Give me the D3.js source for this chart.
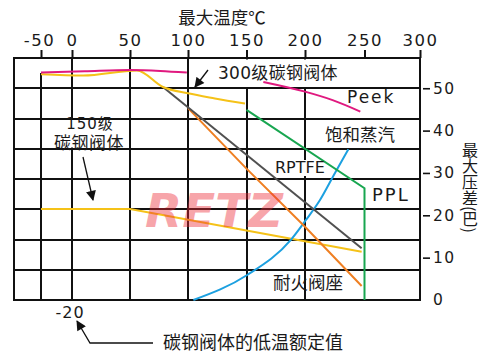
<!DOCTYPE html>
<html><head><meta charset="utf-8">
<script src="https://cdn.jsdelivr.net/npm/d3@7"></script>
<style>
html,body{margin:0;padding:0;background:#fff;}
svg{display:block;}
text{font-family:"DejaVu Sans","Noto Sans CJK SC",sans-serif;fill:#1a1a1a;}
.cjk{font-family:"Noto Sans CJK SC",sans-serif;}
</style></head><body>
<svg id="c" width="500" height="358"></svg>
<script>
// ---------- data ----------
const tempTicks = [-50, 0, 50, 100, 150, 200, 250, 300];
const pressureTicks = [0, 10, 20, 30, 40, 50];
const gridTemps = [-50, 0, 50, 100, 150, 200];
const gridPressureCount = 8;            // rows of the grid
const gridPressureTop = 400 / 7;        // pressure at the top frame

const peekT   = [-50, 11, 50, 76, 99, null, 164.4, 200, 223.2, 246.5];
const peekP   = [53.7, 54.0, 54.3, 54.1, 53.7, null, 51.5, 49.2, 47.2, 44.5];
const cs300T  = [-50, 9.5, 56, 78.4, 100, 123, 148.7];
const cs300P  = [53.3, 53.0, 54.2, 50.3, 48.8, 47.6, 46.4];
const rptfeT  = [78.4, 247.6];
const rptfeP  = [50.3, 12.2];
const fireT   = [100, 150.4, 200, 247.6];
const fireP   = [45.3, 30.9, 17.3, 3.3];
const pplT    = [150, 250, 250];
const pplP    = [44.9, 26.4, 0];
const steamT  = [104.6, 150.6, 187.9, 200.8, 212.6, 225.2, 236.4];
const steamP  = [0, 5.9, 14.2, 18.9, 23.6, 30.0, 35.6];
const cs150T  = [-50, 50, 247.6];
const cs150P  = [21.5, 21.5, 11.4];

const series = [
  {T: cs150T, P: cs150P, color: "#f5c218", curve: d3.curveLinear},
  {T: steamT, P: steamP, color: "#1ca0e0", curve: d3.curveMonotoneX},
  {T: pplT,   P: pplP,   color: "#18a650", curve: d3.curveLinear},
  {T: fireT,  P: fireP,  color: "#ef7f22", curve: d3.curveLinear},
  {T: rptfeT, P: rptfeP, color: "#505050", curve: d3.curveLinear},
  {T: cs300T, P: cs300P, color: "#f5c218", curve: d3.curveMonotoneX},
  {T: peekT,  P: peekP,  color: "#e0197f", curve: d3.curveMonotoneX}
];

// ---------- layout ----------
const svg = d3.select("#c");
const L = 14, R = 420, T0 = 58, B = 300;
const x = d3.scaleLinear().domain(tempTicks).range([41, 72, 130, 188, 246.5, 305, 364.5, 420]);
const y = d3.scaleLinear().domain([0, gridPressureTop]).range([B, T0]);
const ink = "#111";

// grid (drawn as 2px filled bars)
const g = svg.append("g").attr("shape-rendering", "crispEdges");
const gridP = d3.range(1, gridPressureCount).map(k => k * gridPressureTop / gridPressureCount);
g.selectAll("rect.h").data(gridP).join("rect").attr("class", "h")
  .attr("x", L).attr("width", R - L)
  .attr("y", d => Math.round(y(d)) - 1).attr("height", 2).attr("fill", ink);
g.selectAll("rect.v").data(gridTemps).join("rect").attr("class", "v")
  .attr("x", d => Math.round(x(d)) - 1).attr("width", 2)
  .attr("y", d => d === -50 ? Math.round(y(peekP[0])) : T0)
  .attr("height", d => B - (d === -50 ? Math.round(y(peekP[0])) : T0)).attr("fill", ink);
g.append("rect").attr("x", L).attr("y", T0).attr("width", R - L).attr("height", B - T0)
  .attr("fill", "none").attr("stroke", ink).attr("stroke-width", 2);

// white label backgrounds
[[192, 59.5, 153, 27.5], [273, 160, 57, 16], [53, 120, 74, 27.5]].forEach(r => {
  svg.append("rect").attr("x", r[0]).attr("y", r[1]).attr("width", r[2]).attr("height", r[3]).attr("fill", "#fff");
});

// curves
series.forEach(s => {
  const pts = s.T.map((t, i) => [t, s.P[i]]);
  const line = d3.line().defined(d => d[0] !== null).x(d => x(d[0])).y(d => y(d[1])).curve(s.curve);
  svg.append("path").attr("d", line(pts)).attr("fill", "none")
    .attr("stroke", s.color).attr("stroke-width", 2);
});

// top axis
const topAxis = svg.append("g").attr("transform", `translate(0,${T0})`)
  .call(d3.axisTop(x).tickValues(tempTicks).tickSize(8).tickPadding(4)
    .tickFormat(d => d < 0 ? "-" + Math.abs(d) : String(d)));
topAxis.select(".domain").remove();
topAxis.selectAll(".tick line").attr("stroke", ink).attr("stroke-width", 2);
topAxis.selectAll(".tick text").attr("font-size", 16.5).attr("letter-spacing", 1.5)
  .attr("font-family", "DejaVu Sans").attr("dx", d => d < 0 ? -2 : 0);

// right axis
const rightAxis = svg.append("g").attr("transform", `translate(423,0)`)
  .call(d3.axisRight(y).tickValues(pressureTicks).tickSize(7).tickPadding(3));
rightAxis.select(".domain").remove();
rightAxis.selectAll(".tick line").attr("stroke", ink).attr("stroke-width", 1.6)
  .attr("opacity", d => d === 0 ? 0 : 1);
rightAxis.selectAll(".tick text").attr("font-size", 15.5).attr("letter-spacing", 1.5)
  .attr("font-family", "DejaVu Sans");

// titles
svg.append("text").attr("class", "cjk").attr("x", 222).attr("y", 24).attr("text-anchor", "middle")
  .attr("font-size", 17.5).text("最大温度℃");
svg.append("text").attr("class", "cjk").attr("x", 470).attr("y", 142)
  .attr("style", "writing-mode: vertical-rl;").attr("font-size", 16).text("最大压差(巴)");

// labels
const lab = (t, xx, yy, fs, extra) => {
  const el = svg.append("text").attr("x", xx).attr("y", yy).attr("font-size", fs).text(t);
  if (extra) Object.entries(extra).forEach(([k, v]) => el.attr(k, v));
  return el;
};
lab("300级碳钢阀体", 218, 79, 17, {"letter-spacing": 0.3});
lab("Peek", 347, 103, 17, {"letter-spacing": 2});
lab("饱和蒸汽", 325, 141, 17.5, {"class": "cjk"});
lab("RPTFE", 275, 173, 16);
lab("PPL", 372, 201, 18, {"letter-spacing": 2});
lab("耐火阀座", 273, 289, 17.5, {"class": "cjk"});
lab("150级", 90, 129, 15, {"text-anchor": "middle", "letter-spacing": 1});
lab("碳钢阀体", 89, 148.5, 17, {"class": "cjk", "text-anchor": "middle", "letter-spacing": 0.5});
lab("-20", 70, 318, 16, {"text-anchor": "middle", "letter-spacing": 1});
lab("碳钢阀体的低温额定值", 163, 349, 18, {"class": "cjk"});

// arrows
const defs = svg.append("defs");
defs.append("marker").attr("id", "ah").attr("viewBox", "0 0 10 10").attr("refX", 9).attr("refY", 5)
  .attr("markerWidth", 11).attr("markerHeight", 10).attr("markerUnits", "userSpaceOnUse")
  .attr("orient", "auto").append("path").attr("d", "M0,0 L10,5 L0,10 Z").attr("fill", "#111");
[["M208,70 L195,87"], ["M83,157 L93,200"], ["M153,343 L90,343 L77,321"]].forEach(p => {
  svg.append("path").attr("d", p[0]).attr("fill", "none").attr("stroke", "#111")
    .attr("stroke-width", 1.3).attr("marker-end", "url(#ah)");
});

// watermark
svg.append("text").attr("x", 145).attr("y", 227).attr("font-size", 46).attr("font-weight", 900)
  .attr("font-style", "italic").attr("textLength", 138).attr("lengthAdjust", "spacingAndGlyphs")
  .attr("font-family", "DejaVu Sans").style("fill", "#ee2a36").style("opacity", 0.42).text("RETZ");
</script></body></html>
